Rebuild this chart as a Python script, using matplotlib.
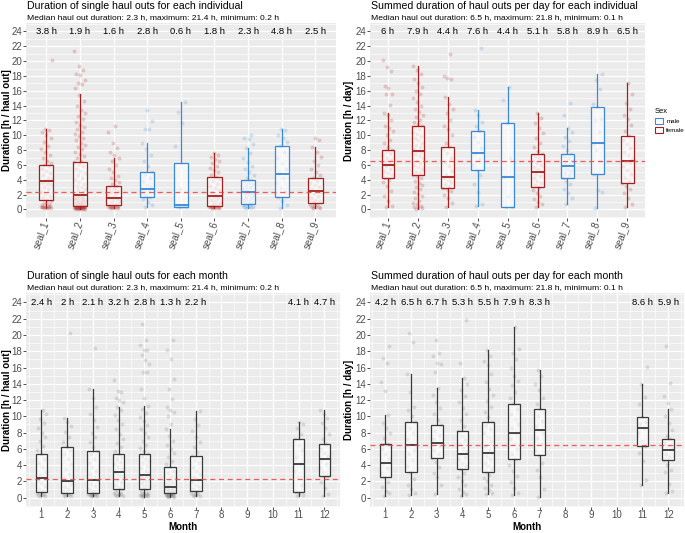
import numpy as np
import matplotlib.pyplot as plt
from matplotlib.patches import Patch
from matplotlib.ticker import MultipleLocator

plt.rcParams['font.family'] = ['Liberation Sans', 'DejaVu Sans']

seals = ["seal_1", "seal_2", "seal_3", "seal_4", "seal_5", "seal_6", "seal_7", "seal_8", "seal_9"]
sex = ["female", "female", "female", "male", "male", "female", "male", "male", "female"]
months = [1, 2, 3, 4, 5, 6, 7, 11, 12]

# single haul outs per individual [h]
ind_single = [
    [0.2, 0.2, 0.2, 0.3, 0.3, 0.3, 0.3, 0.4, 0.4, 0.5, 0.5, 0.6, 0.7, 0.9, 1.1, 1.3, 1.5, 1.8, 2.1, 2.4, 2.7, 3.0,
     3.3, 3.5, 3.7, 3.8, 3.9, 4.1, 4.3, 4.6, 4.9, 5.2, 5.5, 5.8, 6.0, 6.2, 6.5, 6.9, 7.3, 7.7, 8.1, 8.6, 9.1, 9.6,
     10.0, 10.4, 10.7, 10.8, 20.2],
    [0.1, 0.1, 0.1, 0.1, 0.1, 0.2, 0.2, 0.2, 0.2, 0.2, 0.2, 0.2, 0.2, 0.3, 0.3, 0.3, 0.3, 0.3, 0.3, 0.3, 0.4, 0.4,
     0.4, 0.4, 0.4, 0.5, 0.5, 0.5, 0.5, 0.6, 0.6, 0.7, 0.8, 0.9, 1.0, 1.1, 1.2, 1.3, 1.4, 1.5, 1.6, 1.7, 1.8, 1.9,
     2.0, 2.2, 2.4, 2.6, 2.8, 3.0, 3.2, 3.4, 3.7, 4.0, 4.3, 4.6, 4.9, 5.2, 5.5, 5.8, 6.1, 6.4, 6.6, 6.9, 7.2, 7.5,
     7.8, 8.1, 8.4, 8.7, 9.0, 9.3, 9.6, 9.9, 10.2, 10.5, 10.8, 11.1, 11.4, 11.8, 12.2, 12.6, 13.0, 13.4, 14.0,
     14.6, 15.4, 16.4, 16.9, 17.1, 17.5, 18.1, 18.3, 18.8, 19.4, 21.4],
    [0.2, 0.2, 0.2, 0.3, 0.3, 0.3, 0.3, 0.4, 0.4, 0.5, 0.5, 0.6, 0.8, 1.0, 1.2, 1.4, 1.5, 1.6, 1.7, 1.9, 2.1, 2.3,
     2.5, 2.7, 2.9, 3.1, 3.4, 3.7, 4.0, 4.2, 4.5, 5.0, 5.5, 6.0, 6.5, 6.9, 7.3, 7.8, 8.3, 8.9, 10.4, 11.2],
    [0.4, 0.6, 1.0, 1.4, 1.7, 1.9, 2.2, 2.5, 2.8, 3.0, 3.3, 3.8, 4.3, 4.8, 5.1, 5.8, 6.6, 7.4, 8.2, 9.0, 10.8, 10.9,
     11.9, 13.4],
    [0.3, 0.3, 0.4, 0.5, 0.6, 2.8, 8.6, 11.7, 13.1, 14.5],
    [0.2, 0.2, 0.2, 0.3, 0.3, 0.3, 0.3, 0.4, 0.4, 0.4, 0.5, 0.5, 0.6, 0.7, 0.9, 1.1, 1.3, 1.5, 1.7, 1.8, 2.0, 2.3,
     2.6, 2.9, 3.2, 3.5, 3.8, 4.1, 4.4, 4.7, 5.0, 5.3, 5.6, 5.9, 6.2, 6.5, 6.8, 7.1, 7.4, 7.6],
    [0.2, 0.3, 0.3, 0.4, 0.4, 0.5, 0.6, 0.7, 0.8, 0.9, 1.1, 1.3, 1.5, 1.7, 1.9, 2.1, 2.2, 2.4, 2.6, 2.8, 3.0, 3.2,
     3.4, 3.6, 3.8, 4.0, 4.3, 4.7, 5.1, 5.5, 5.9, 6.4, 7.0, 7.6, 8.3, 8.8, 9.5, 9.7, 10.0],
    [0.2, 0.6, 1.2, 1.7, 2.3, 2.9, 3.6, 4.2, 4.85, 5.5, 6.3, 7.0, 7.8, 8.5, 9.1, 9.6, 10.1, 10.7, 10.8],
    [0.2, 0.2, 0.3, 0.3, 0.4, 0.5, 0.6, 0.8, 0.9, 1.1, 1.3, 1.5, 1.8, 2.1, 2.4, 2.5, 2.7, 3.0, 3.3, 3.6, 3.9, 4.2,
     4.6, 5.0, 5.5, 6.0, 6.5, 7.1, 7.7, 8.4, 9.3, 9.6],
]
ind_single_lo = [0.2, 0.1, 0.2, 0.4, 0.3, 0.2, 0.2, 0.2, 0.2]
ind_single_q1 = [1.3, 0.45, 0.55, 1.7, 0.3, 0.45, 0.8, 1.7, 0.9]
ind_single_med = [3.8, 1.9, 1.6, 2.8, 0.6, 1.8, 2.3, 4.8, 2.5]
ind_single_q3 = [6.0, 6.45, 3.1, 5.1, 6.3, 4.4, 4.0, 8.5, 4.2]
ind_single_hi = [10.8, 15.5, 6.9, 9.0, 14.5, 7.6, 8.3, 10.8, 8.4]

# summed haul out duration per day per individual [h]
ind_day = [
    [0.3, 0.5, 1.1, 1.8, 2.5, 3.1, 3.7, 4.0, 4.3, 4.6, 4.9, 5.2, 5.5, 5.8, 6.0, 6.1, 6.4, 6.7, 7.0, 7.3, 7.6, 7.9,
     8.05, 8.4, 8.9, 9.4, 10.0, 10.6, 11.0, 11.3, 12.0, 12.8, 13.0, 14.1, 15.6, 15.6, 16.4, 16.7, 18.7, 19.2, 20.2],
    [0.1, 0.2, 0.3, 0.4, 0.5, 0.7, 0.9, 1.2, 1.5, 1.8, 2.1, 2.4, 2.7, 3.0, 3.3, 3.6, 3.9, 4.2, 4.5, 4.7, 4.9, 5.1,
     5.4, 5.7, 6.0, 6.3, 6.6, 6.9, 7.2, 7.5, 7.8, 7.9, 8.1, 8.4, 8.7, 9.0, 9.3, 9.6, 9.9, 10.2, 10.5, 10.8, 11.1,
     11.2, 11.5, 11.8, 12.1, 12.4, 12.8, 13.2, 13.6, 14.0, 14.5, 15.0, 15.5, 16.0, 16.5, 17.0, 17.6, 18.2, 18.8,
     19.4],
    [0.4, 0.9, 1.5, 2.0, 2.5, 2.8, 2.9, 3.1, 3.4, 3.7, 4.0, 4.3, 4.4, 4.7, 5.2, 5.8, 6.4, 7.0, 7.6, 8.1, 8.4, 9.0,
     10.0, 10.8, 11.2, 12.0, 13.0, 13.5, 14.2, 15.2, 17.6, 17.7, 18.0, 21.0],
    [0.5, 0.8, 2.4, 3.4, 4.6, 5.3, 6.0, 6.8, 7.6, 8.3, 9.1, 9.8, 10.6, 11.2, 11.8, 12.8, 13.4, 21.8],
    [0.3, 0.4, 1.8, 4.4, 7.0, 11.6, 14.8, 16.5],
    [0.4, 0.7, 1.0, 1.4, 1.8, 2.2, 2.6, 3.0, 3.3, 3.6, 3.9, 4.2, 4.5, 4.8, 5.1, 5.4, 5.7, 6.0, 6.3, 6.6, 6.9, 7.2,
     7.5, 7.9, 8.4, 9.0, 9.6, 10.3, 11.0, 11.7, 12.3, 13.0],
    [0.8, 1.5, 2.2, 2.8, 3.4, 3.9, 4.3, 4.6, 4.9, 5.2, 5.5, 5.8, 6.0, 6.3, 6.6, 6.9, 7.2, 7.5, 8.0, 8.6, 9.2, 9.8,
     10.4, 11.0, 12.7, 14.3],
    [0.2, 2.4, 2.6, 4.8, 6.5, 8.0, 8.85, 10.5, 12.1, 12.2, 13.8, 14.2, 16.3, 17.5, 18.3],
    [0.3, 0.8, 1.5, 2.2, 2.8, 3.2, 3.55, 3.9, 4.3, 4.8, 5.3, 5.8, 6.2, 6.45, 6.8, 7.3, 7.8, 8.3, 8.8, 9.3, 9.95,
     10.6, 11.4, 12.2, 12.8, 13.6, 14.4, 15.5, 17.0],
]
ind_day_lo = [0.3, 0.1, 0.4, 0.5, 0.3, 0.4, 0.8, 0.2, 0.3]
ind_day_q1 = [4.3, 4.7, 2.9, 5.3, 0.4, 3.0, 4.3, 4.8, 3.55]
ind_day_med = [6.0, 7.9, 4.4, 7.6, 4.4, 5.1, 5.8, 8.9, 6.5]
ind_day_q3 = [8.05, 11.2, 8.4, 10.6, 11.6, 7.5, 7.5, 13.8, 9.95]
ind_day_hi = [13.0, 19.4, 15.2, 13.4, 16.5, 13.0, 11.0, 18.3, 17.0]

# single haul outs per month [h]
month_single = [
    [0.2, 0.2, 0.3, 0.3, 0.4, 0.5, 0.6, 0.8, 1.1, 1.4, 1.8, 2.2, 2.45, 2.8, 3.2, 3.7, 4.2, 4.7, 5.3, 5.8, 6.4, 6.9,
     7.5, 8.0, 8.6, 9.2, 9.7, 10.3, 10.8],
    [0.2, 0.2, 0.3, 0.3, 0.4, 0.5, 0.7, 1.0, 1.3, 1.7, 2.0, 2.4, 2.9, 3.5, 4.1, 4.7, 5.3, 5.8, 6.25, 6.8, 7.5, 8.1,
     8.8, 9.3, 9.8, 20.2],
    [0.2, 0.2, 0.2, 0.3, 0.3, 0.3, 0.4, 0.4, 0.5, 0.6, 0.8, 1.1, 1.4, 1.7, 2.1, 2.5, 2.9, 3.3, 3.8, 4.3, 4.8, 5.3,
     5.7, 6.2, 6.8, 7.4, 8.0, 8.7, 9.5, 10.3, 11.1, 12.2, 13.4, 18.4],
    [0.2, 0.2, 0.3, 0.3, 0.4, 0.4, 0.5, 0.6, 0.8, 1.05, 1.3, 1.6, 1.9, 2.2, 2.5, 2.8, 3.2, 3.5, 3.8, 4.1, 4.4, 4.7,
     5.0, 5.3, 5.7, 6.2, 6.7, 7.2, 7.8, 8.4, 9.0, 9.6, 10.2, 10.8, 11.2, 11.7, 12.0, 12.3, 13.0, 13.1, 14.5],
    [0.1, 0.2, 0.2, 0.2, 0.3, 0.3, 0.3, 0.4, 0.4, 0.5, 0.6, 0.8, 1.0, 1.2, 1.4, 1.6, 1.8, 2.0, 2.2, 2.4, 2.6, 2.8,
     3.0, 3.3, 3.6, 3.9, 4.2, 4.5, 4.8, 5.1, 5.3, 5.7, 6.1, 6.5, 6.9, 7.4, 7.9, 8.4, 8.9, 9.4, 9.9, 10.4, 10.9,
     11.3, 12.3, 13.4, 15.4, 15.5, 16.4, 16.9, 17.5, 18.2, 18.2, 18.8, 19.4, 21.4],
    [0.1, 0.1, 0.2, 0.2, 0.2, 0.2, 0.3, 0.3, 0.3, 0.3, 0.4, 0.4, 0.4, 0.5, 0.5, 0.6, 0.7, 0.8, 0.9, 1.0, 1.1, 1.2,
     1.35, 1.5, 1.7, 1.9, 2.1, 2.4, 2.7, 3.0, 3.3, 3.7, 4.1, 4.5, 5.0, 5.5, 6.0, 6.5, 7.0, 7.6, 8.4, 9.0, 10.0,
     10.5, 10.8, 11.2, 12.1, 13.4, 14.6, 17.1, 18.1, 19.4],
    [0.2, 0.2, 0.3, 0.3, 0.4, 0.5, 0.6, 0.75, 1.0, 1.3, 1.6, 1.9, 2.2, 2.5, 2.9, 3.3, 3.7, 4.2, 4.6, 5.05, 5.6,
     6.2, 6.8, 7.5, 8.2, 8.9, 9.7, 10.6],
    [0.2, 0.3, 0.5, 0.7, 1.5, 2.5, 3.3, 4.1, 5.0, 5.8, 6.5, 7.2, 7.8, 8.5, 9.0, 9.3],
    [0.2, 0.4, 1.2, 1.9, 2.6, 3.1, 3.6, 4.1, 4.7, 5.1, 5.5, 6.0, 6.6, 7.2, 7.8, 8.5, 9.2, 9.8, 10.3, 10.8],
]
month_single_lo = [0.2, 0.2, 0.2, 0.2, 0.1, 0.1, 0.2, 0.2, 0.2]
month_single_q1 = [0.65, 0.5, 0.5, 1.05, 1.0, 0.55, 0.75, 0.7, 2.6]
month_single_med = [2.4, 2.0, 2.1, 3.2, 2.8, 1.3, 2.2, 4.1, 4.7]
month_single_q3 = [5.3, 6.25, 5.7, 5.3, 5.3, 3.7, 5.05, 7.2, 6.6]
month_single_hi = [10.8, 9.8, 13.4, 11.2, 11.3, 8.4, 10.6, 9.3, 10.8]

# summed haul out duration per day per month [h]
month_day = [
    [0.2, 0.5, 0.8, 1.3, 1.9, 2.5, 3.0, 3.6, 4.25, 4.9, 5.4, 6.0, 6.55, 7.3, 8.0, 8.5, 9.2, 10.2, 13.1, 14.2, 16.6,
     17.2, 18.7],
    [0.3, 0.5, 1.0, 1.5, 2.3, 3.15, 3.9, 4.6, 5.3, 5.9, 6.55, 7.2, 7.9, 8.6, 9.3, 10.0, 10.8, 11.2, 13.0, 15.2,
     19.1, 20.2],
    [0.4, 1.5, 2.5, 3.0, 3.8, 4.4, 4.9, 5.4, 5.9, 6.3, 6.75, 7.2, 7.7, 8.2, 8.95, 9.6, 10.3, 11.0, 11.8, 12.6, 13.5,
     15.5, 16.4, 16.5, 17.4, 17.8, 19.4],
    [0.2, 0.4, 0.7, 1.0, 1.5, 2.0, 2.5, 3.0, 3.5, 3.9, 4.3, 4.7, 5.0, 5.3, 5.7, 6.1, 6.6, 7.1, 7.6, 8.2, 8.8, 9.5,
     10.3, 11.0, 11.8, 12.5, 13.2, 14.0, 14.7, 16.5, 21.8],
    [0.4, 0.6, 0.9, 1.2, 1.6, 2.0, 2.4, 2.8, 3.1, 3.5, 3.9, 4.3, 4.7, 5.1, 5.5, 5.9, 6.4, 6.9, 7.4, 7.9, 8.4, 8.9,
     9.3, 9.9, 10.5, 11.2, 11.9, 12.6, 13.4, 14.2, 15.2, 16.3, 16.8, 17.4, 18.2],
    [0.3, 0.6, 1.2, 1.9, 2.6, 3.3, 4.0, 4.8, 5.4, 6.0, 6.6, 7.2, 7.9, 8.5, 9.1, 9.7, 10.3, 10.9, 11.45, 12.2, 13.0,
     13.8, 14.4, 15.0, 16.0, 17.0, 17.8, 18.3, 21.0],
    [0.1, 1.1, 2.5, 3.4, 4.3, 5.2, 5.9, 6.6, 7.3, 8.0, 8.3, 8.8, 9.4, 10.0, 10.5, 10.95, 11.5, 12.3, 13.2, 14.0,
     14.9, 15.7],
    [1.6, 2.2, 4.5, 5.5, 6.3, 7.0, 8.0, 8.6, 9.0, 9.3, 9.85, 11.5, 12.4, 14.0, 16.1],
    [0.5, 0.8, 1.7, 3.2, 3.4, 4.0, 4.6, 5.0, 5.4, 5.95, 6.3, 6.7, 7.15, 7.6, 8.3, 9.2, 10.0, 10.9, 11.6, 12.5,
     14.1, 18.7],
]
month_day_lo = [0.2, 0.3, 0.4, 0.2, 0.4, 0.3, 0.1, 1.6, 0.5]
month_day_q1 = [2.5, 3.15, 4.9, 3.5, 3.1, 4.8, 5.2, 6.3, 4.6]
month_day_med = [4.2, 6.5, 6.7, 5.3, 5.5, 7.9, 8.3, 8.6, 5.9]
month_day_q3 = [6.55, 9.3, 8.95, 8.2, 9.3, 11.45, 10.95, 9.85, 7.15]
month_day_hi = [10.2, 15.2, 13.5, 14.7, 18.2, 21.0, 15.7, 14.0, 10.9]

sex_colors = {"male": "#3B88D6", "female": "#A3201F"}


def style_axes(ax):
    ax.set_facecolor("#EBEBEB")
    for s in ax.spines.values():
        s.set_visible(False)
    ax.set_ylim(-1.15, 25.15)
    ax.yaxis.set_major_locator(MultipleLocator(2))
    ax.yaxis.set_minor_locator(MultipleLocator(1))
    ax.grid(which="major", color="white", lw=0.9)
    ax.grid(which="minor", axis="y", color="white", lw=0.45)
    ax.set_axisbelow(True)
    ax.tick_params(which="major", length=2, width=0.6, color="#333333",
                   labelsize=7, labelcolor="#4D4D4D", pad=0.6)
    ax.tick_params(which="minor", length=0)


def draw_panel(ax, xs, pts, lo, q1, med, q3, hi, colors, width, pt_alpha):
    for i, x in enumerate(xs):
        v = np.array(pts[i])
        k = np.arange(len(v))
        off = ((k * 0.618034 + 0.31) % 1 - 0.5) * width * 0.8
        ax.scatter(x + off, v, s=8, color=colors[i], alpha=pt_alpha, lw=0, zorder=2)
    stats = [dict(whislo=lo[i], q1=q1[i], med=med[i], q3=q3[i], whishi=hi[i]) for i in range(len(xs))]
    bp = ax.bxp(stats, positions=xs, widths=width, showfliers=False, showcaps=False,
                patch_artist=True, manage_ticks=False, zorder=3)
    for i in range(len(xs)):
        bp["boxes"][i].set(facecolor=(1, 1, 1, 0.55), edgecolor=colors[i], lw=0.9, alpha=None)
        bp["medians"][i].set(color=colors[i], lw=1.3)
        for w in bp["whiskers"][2 * i:2 * i + 2]:
            w.set(color=colors[i], lw=0.9)
    for i, x in enumerate(xs):
        ax.text(x, 24, "{:g} h".format(med[i]), ha="center", va="center", fontsize=6.8, zorder=4)


def titles(ax, title, sub):
    ax.annotate(title, xy=(0, 1), xycoords="axes fraction", xytext=(0.5, 10.2), textcoords="offset points",
                fontsize=7.6, ha="left", va="baseline")
    ax.annotate(sub, xy=(0, 1), xycoords="axes fraction", xytext=(0.5, 2.7), textcoords="offset points",
                fontsize=6.1, ha="left", va="baseline")


fig = plt.figure(figsize=(6.85, 5.33), dpi=100)
ax1 = fig.add_axes([0.038, 0.591, 0.452, 0.366])
ax2 = fig.add_axes([0.540, 0.591, 0.402, 0.366])
ax3 = fig.add_axes([0.038, 0.049, 0.458, 0.401])
ax4 = fig.add_axes([0.540, 0.049, 0.458, 0.401])

seal_cols = [sex_colors[s] for s in sex]
pos = np.arange(1, len(seals) + 1)
grey = ["#3A3A3A"] * len(months)

for ax, pts, lo, q1, med, q3, hi in [
        (ax1, ind_single, ind_single_lo, ind_single_q1, ind_single_med, ind_single_q3, ind_single_hi),
        (ax2, ind_day, ind_day_lo, ind_day_q1, ind_day_med, ind_day_q3, ind_day_hi)]:
    style_axes(ax)
    draw_panel(ax, pos, pts, lo, q1, med, q3, hi, seal_cols, 0.42, 0.2)
    ax.set_xlim(0.4, len(seals) + 0.6)
    ax.set_xticks(pos)
    ax.set_xticklabels(seals, rotation=70, ha="right", va="center", rotation_mode="anchor")

for ax, pts, lo, q1, med, q3, hi in [
        (ax3, month_single, month_single_lo, month_single_q1, month_single_med, month_single_q3, month_single_hi),
        (ax4, month_day, month_day_lo, month_day_q1, month_day_med, month_day_q3, month_day_hi)]:
    style_axes(ax)
    draw_panel(ax, months, pts, lo, q1, med, q3, hi, grey, 0.45, 0.14)
    ax.set_xlim(0.4, 12.6)
    ax.set_xticks(range(1, 13))
    ax.xaxis.set_minor_locator(MultipleLocator(0.5))
    ax.grid(which="minor", axis="x", color="white", lw=0.45)
    ax.set_xlabel("Month", fontsize=7, fontweight="bold")
    ax.xaxis.set_label_coords(0.5, -0.07)

for ax, m in [(ax1, 2.3), (ax3, 2.3), (ax2, 6.5), (ax4, 6.5)]:
    ax.axhline(m, color="#F04040", ls=(0, (4, 3)), lw=0.9, alpha=0.85, zorder=4)

ax1.set_ylabel("Duration [h / haul out]", fontsize=7, fontweight="bold")
ax3.set_ylabel("Duration [h / haul out]", fontsize=7, fontweight="bold")
ax2.set_ylabel("Duration [h / day]", fontsize=7, fontweight="bold")
ax4.set_ylabel("Duration [h / day]", fontsize=7, fontweight="bold")
ax1.yaxis.set_label_coords(-0.044, 0.5)
ax3.yaxis.set_label_coords(-0.044, 0.5)
ax2.yaxis.set_label_coords(-0.058, 0.5)
ax4.yaxis.set_label_coords(-0.051, 0.5)

titles(ax1, "Duration of single haul outs for each individual",
       "Median haul out duration: 2.3 h, maximum: 21.4 h, minimum: 0.2 h")
titles(ax2, "Summed duration of haul outs per day for each individual",
       "Median haul out duration: 6.5 h, maximum: 21.8 h, minimum: 0.1 h")
titles(ax3, "Duration of single haul outs for each month",
       "Median haul out duration: 2.3 h, maximum: 21.4 h, minimum: 0.2 h")
titles(ax4, "Summed duration of haul outs per day for each month",
       "Median haul out duration: 6.5 h, maximum: 21.8 h, minimum: 0.1 h")

handles = [Patch(facecolor="white", edgecolor=sex_colors["male"], lw=0.8, label="male"),
           Patch(facecolor="white", edgecolor=sex_colors["female"], lw=0.8, label="female")]
leg = fig.legend(handles=handles, title="Sex", loc="upper left", bbox_to_anchor=(0.950, 0.805),
                 frameon=False, fontsize=4.5, title_fontsize=5.5, handlelength=1.3, handleheight=1.0,
                 handletextpad=0.5, labelspacing=0.5, borderpad=0.2)
leg._legend_box.align = "left"

fig.savefig("out.png", dpi=100)
